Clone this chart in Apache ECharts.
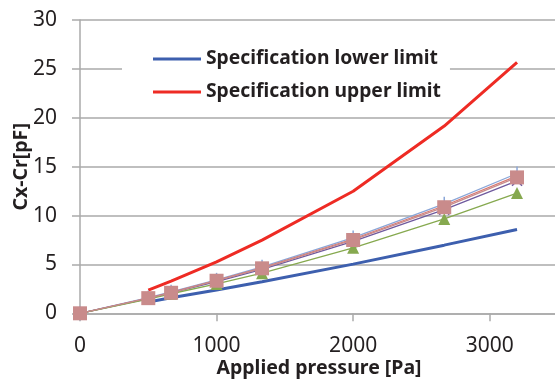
<!DOCTYPE html>
<html>
<head>
<meta charset="utf-8">
<script src="https://cdn.jsdelivr.net/npm/echarts@6/dist/echarts.min.js"></script>
<style>html,body{margin:0;padding:0;background:#fff;}#c{width:555px;height:381px;}</style>
</head>
<body>
<div id="c"></div>
<script>
// Data
var pressure = [0, 500, 667, 1000, 1333, 2000, 2667, 3200];
var specLower = [null, 1.15, 1.6, 2.38, 3.23, 5.03, 6.97, 8.57];
var specUpper = [null, 2.38, 3.3, 5.27, 7.48, 12.48, 19.15, 25.67];
var sample1 = [0, 1.6, 2.2, 3.42, 4.75, 7.75, 11.2, 14.3];
var sample2 = [0, 1.55, 2.15, 3.36, 4.65, 7.6, 11.0, 14.05];
var sample3 = [0, 1.5, 2.1, 3.25, 4.5, 7.35, 10.6, 13.55];
var sample4 = [0, 1.45, 2.0, 3.0, 4.1, 6.7, 9.65, 12.3];
var sample5 = [0, 1.55, 2.1, 3.33, 4.6, 7.5, 10.85, 13.9];
var yTicks = [0, 5, 10, 15, 20, 25, 30];
var xTicks = [0, 1000, 2000, 3000];
var legendNames = ['Specification lower limit', 'Specification upper limit'];

function pairs(vals) {
  var out = [];
  for (var i = 0; i < pressure.length; i++) {
    if (vals[i] !== null) out.push([pressure[i], vals[i]]);
  }
  return out;
}

var grey = '#aaaaaa';
var font = 'Noto Sans';
var xPath = 'path://M0,0 L10,10 M10,0 L0,10';

var chart = echarts.init(document.getElementById('c'), null, {renderer: 'canvas'});
chart.setOption({
  animation: false,
  backgroundColor: '#ffffff',
  grid: {left: 80, top: 20, width: 478, height: 293.3, containLabel: false, outerBoundsMode: 'none'},
  legend: {
    data: legendNames,
    orient: 'vertical',
    left: 122,
    top: 38,
    padding: [10, 9, 12, 31],
    backgroundColor: '#ffffff',
    itemWidth: 48,
    itemHeight: 3,
    itemGap: 11,
    icon: 'rect',
    textStyle: {fontFamily: font, fontWeight: 'bold', fontSize: 19.3, color: '#231f20', lineHeight: 22}
  },
  xAxis: {
    type: 'value',
    min: xTicks[0],
    max: 3500,
    interval: 1000,
    name: 'Applied pressure [Pa]',
    nameLocation: 'middle',
    nameGap: 45,
    nameMoveOverlap: false,
    nameTextStyle: {fontFamily: font, fontWeight: 'bold', fontSize: 19.5, color: '#231f20'},
    axisLine: {show: true, lineStyle: {color: grey, width: 1.5}},
    axisTick: {show: true, length: 8, lineStyle: {color: grey, width: 1.5}},
    axisLabel: {
      margin: 22, fontFamily: font, fontSize: 21, color: '#231f20',
      formatter: function (v) { return xTicks.indexOf(v) >= 0 ? String(v) : ''; }
    },
    splitLine: {show: false}
  },
  yAxis: {
    type: 'value',
    min: yTicks[0],
    max: yTicks[yTicks.length - 1],
    interval: 5,
    name: 'Cx-Cr[pF]',
    nameLocation: 'middle',
    nameGap: 49,
    nameMoveOverlap: false,
    nameTextStyle: {fontFamily: font, fontWeight: 'bold', fontSize: 19.5, color: '#231f20'},
    axisLine: {show: true, lineStyle: {color: grey, width: 1.5}},
    axisTick: {show: true, length: 8, lineStyle: {color: grey, width: 1.5}},
    axisLabel: {margin: 23, fontFamily: font, fontSize: 21, color: '#231f20'},
    splitLine: {show: true, lineStyle: {color: grey, width: 1.5}}
  },
  series: [
    {name: legendNames[0], type: 'line', data: pairs(specLower), showSymbol: false, symbol: 'none',
      lineStyle: {color: '#3d5fae', width: 3}, itemStyle: {color: '#3d5fae'}},
    {name: legendNames[1], type: 'line', data: pairs(specUpper), showSymbol: false, symbol: 'none',
      lineStyle: {color: '#ee2b24', width: 3}, itemStyle: {color: '#ee2b24'}},
    {name: 's1', type: 'line', data: pairs(sample1), symbol: 'rect', symbolSize: [1.5, 14],
      lineStyle: {color: '#8aa6d8', width: 1.3}, itemStyle: {color: '#8aa6d8'}},
    {name: 's2', type: 'line', data: pairs(sample2), symbol: 'none',
      lineStyle: {color: '#d77a72', width: 1.3}, itemStyle: {color: '#d77a72'}},
    {name: 's3', type: 'line', data: pairs(sample3), symbol: xPath, symbolSize: 10,
      lineStyle: {color: '#6f5a9e', width: 1.3}, itemStyle: {color: 'none', borderColor: '#6f5a9e', borderWidth: 1.5}},
    {name: 's4', type: 'line', data: pairs(sample4), symbol: 'triangle', symbolSize: 12,
      lineStyle: {color: '#86a94f', width: 1.3}, itemStyle: {color: '#86a94f'}},
    {name: 's5', type: 'line', data: pairs(sample5), symbol: 'rect', symbolSize: 14,
      lineStyle: {color: '#c98b8b', width: 1.3}, itemStyle: {color: '#c98b8b'}}
  ]
});
</script>
</body>
</html>
